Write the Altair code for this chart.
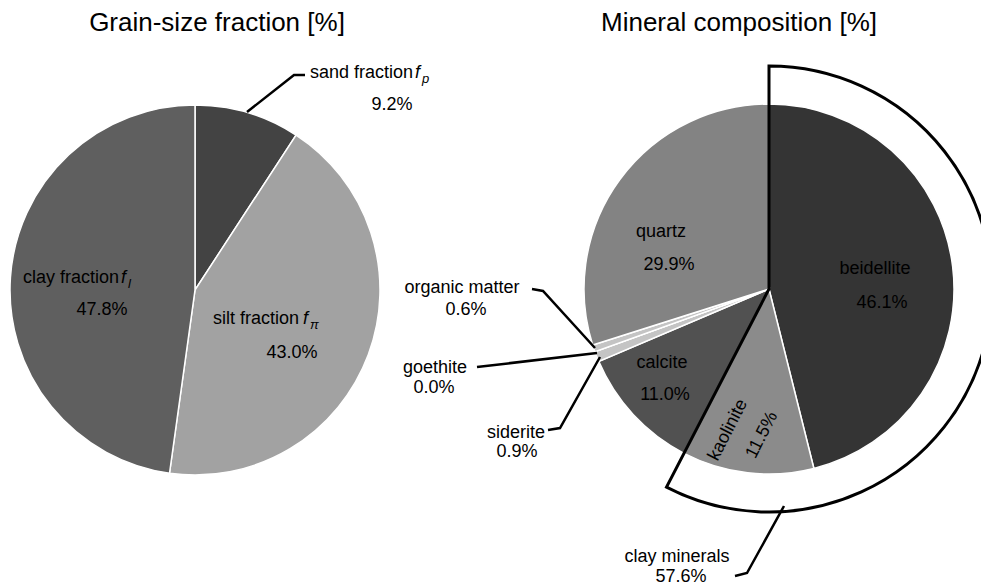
import altair as alt
import pandas as pd

# ---------------- data ----------------
grain_names = ["sand fraction", "silt fraction", "clay fraction"]
grain_values = [9.2, 43.0, 47.8]
grain_colors = ["#434343", "#a2a2a2", "#5f5f5f"]

mineral_names = ["beidellite", "kaolinite", "calcite", "siderite", "goethite", "organic matter", "quartz"]
mineral_values = [46.1, 11.5, 11.0, 0.9, 0.0, 0.6, 29.9]
mineral_colors = ["#343434", "#8b8b8b", "#515151", "#c4c4c4", "#d8d8d8", "#c4c4c4", "#838383"]

group_name = ["clay minerals"]
group_members = [["beidellite", "kaolinite"]]

titles = ["Grain-size fraction [%]", "Mineral composition [%]"]

# ---------------- layout (page pixel coordinates) ----------------
W, H = 973, 577
OFF = 8
R_PIE = 185
R_GROUP = 223
left_center = (195, 290)
right_center = (769, 289)

title_pos = [(217, 23), (739, 23)]

# label positions for each named item: (name-text x, name y, value x, value y)
grain_label_pos = {
    "sand fraction": (310, 73, 392, 105),
    "silt fraction": (213, 319, 292, 353),
    "clay fraction": (23, 278, 102, 310),
}
grain_sub = {"sand fraction": "p", "silt fraction": "π", "clay fraction": "l"}
f_gap = {"sand fraction": 105, "silt fraction": 90, "clay fraction": 98}

mineral_label_pos = {
    "beidellite": (875, 269, 882, 303),
    "calcite": (662, 363, 665, 395),
    "siderite": (516, 433, 517, 452),
    "goethite": (435, 368, 434, 388),
    "organic matter": (462, 288, 466, 310),
    "quartz": (661, 232, 669, 265),
}
kaolinite_pos = (728, 430, 762, 435)
group_label_pos = (677, 557, 681, 577)

leaders = {
    "sand": [(247, 112), (294, 75), (305, 75)],
    "organic": [(532, 289), (543, 291), (595, 348)],
    "goethite": [(477, 367), (597, 353)],
    "siderite": [(548, 430), (560, 428), (600, 357)],
    "clay": [(735, 576), (747, 573), (784, 506)],
}

FONT = "Liberation Sans"
FS = 18

# ---------------- tables ----------------
grain_df = pd.DataFrame({"name": grain_names, "value": grain_values,
                         "idx": list(range(len(grain_names)))})
mineral_df = pd.DataFrame({"name": mineral_names, "value": mineral_values,
                           "idx": list(range(len(mineral_names)))})

cum = 0.0
g_start, g_end = None, None
for n, v in zip(mineral_names, mineral_values):
    if n in group_members[0]:
        if g_start is None:
            g_start = cum
        g_end = cum + v
    cum += v
group_df = pd.DataFrame({"name": group_name, "start": [g_start], "end": [g_end]})
group_total = sum(v for n, v in zip(mineral_names, mineral_values) if n in group_members[0])

xs = alt.Scale(domain=[OFF, OFF + W], range=[0, W])
ys = alt.Scale(domain=[OFF, OFF + H], range=[0, H])
theta_scale = alt.Scale(domain=[0, 100])

# centered labels
rows = []
for n, v in zip(mineral_names, mineral_values):
    if n in mineral_label_pos:
        nx, ny, vx, vy = mineral_label_pos[n]
        rows.append({"t": n, "x": nx, "y": ny})
        rows.append({"t": f"{v:.1f}%", "x": vx, "y": vy})
for n, v in zip(grain_names, grain_values):
    nx, ny, vx, vy = grain_label_pos[n]
    rows.append({"t": f"{v:.1f}%", "x": vx, "y": vy})
rows.append({"t": group_name[0], "x": group_label_pos[0], "y": group_label_pos[1]})
rows.append({"t": f"{group_total:.1f}%", "x": group_label_pos[2], "y": group_label_pos[3]})
center_df = pd.DataFrame(rows)

# left-aligned grain names with italic f and subscript
name_rows, f_rows, sub_rows = [], [], []
for n in grain_names:
    nx, ny, _, _ = grain_label_pos[n]
    name_rows.append({"t": n, "x": nx, "y": ny})
    fx = nx + f_gap[n]
    f_rows.append({"t": "f", "x": fx, "y": ny})
    sub_rows.append({"t": grain_sub[n], "x": fx + 7, "y": ny + 6})
name_df = pd.DataFrame(name_rows)
f_df = pd.DataFrame(f_rows)
sub_df = pd.DataFrame(sub_rows)

kv = mineral_values[mineral_names.index("kaolinite")]
rot_df = pd.DataFrame({"t": ["kaolinite", f"{kv:.1f}%"],
                       "x": [kaolinite_pos[0], kaolinite_pos[2]],
                       "y": [kaolinite_pos[1], kaolinite_pos[3]]})

title_df = pd.DataFrame({"t": titles, "x": [p[0] for p in title_pos], "y": [p[1] for p in title_pos]})

lrows = []
for g, pts in leaders.items():
    for i, (x, y) in enumerate(pts):
        lrows.append({"g": g, "seq": i, "x": x, "y": y})
lead_df = pd.DataFrame(lrows)

# ---------------- charts ----------------
left_pie = alt.Chart(grain_df).mark_arc(outerRadius=R_PIE, stroke="white", strokeWidth=1.5).encode(
    theta=alt.Theta("value:Q", stack=True, scale=theta_scale),
    order=alt.Order("idx:Q", sort="ascending"),
    color=alt.Color("name:N", scale=alt.Scale(domain=grain_names, range=grain_colors), legend=None),
    x=alt.value(left_center[0] - OFF),
    y=alt.value(left_center[1] - OFF),
)

right_pie = alt.Chart(mineral_df).mark_arc(outerRadius=R_PIE, stroke="white", strokeWidth=1.5).encode(
    theta=alt.Theta("value:Q", stack=True, scale=theta_scale),
    order=alt.Order("idx:Q", sort="ascending"),
    color=alt.Color("name:N", scale=alt.Scale(domain=mineral_names, range=mineral_colors), legend=None),
    x=alt.value(right_center[0] - OFF),
    y=alt.value(right_center[1] - OFF),
)

group_arc = alt.Chart(group_df).mark_arc(outerRadius=R_GROUP, innerRadius=0, fillOpacity=0,
                                         stroke="black", strokeWidth=3, strokeJoin="miter").encode(
    theta=alt.Theta("start:Q", scale=theta_scale),
    theta2="end:Q",
    x=alt.value(right_center[0] - OFF),
    y=alt.value(right_center[1] - OFF),
)

lines = alt.Chart(lead_df).mark_line(color="black", strokeWidth=2.5, strokeJoin="miter").encode(
    x=alt.X("x:Q", scale=xs, axis=None),
    y=alt.Y("y:Q", scale=ys, axis=None),
    detail="g:N",
    order="seq:Q",
)

def txt(df, **kw):
    return alt.Chart(df).mark_text(font=FONT, color="black", baseline="middle", **kw).encode(
        x=alt.X("x:Q", scale=xs, axis=None),
        y=alt.Y("y:Q", scale=ys, axis=None),
        text="t:N",
    )

center_txt = txt(center_df, fontSize=FS, align="center")
name_txt = txt(name_df, fontSize=FS, align="left")
f_txt = txt(f_df, fontSize=FS, align="left", fontStyle="italic")
sub_txt = txt(sub_df, fontSize=13, align="left", fontStyle="italic")
rot_txt = txt(rot_df, fontSize=FS, align="center", angle=297)
title_txt = txt(title_df, fontSize=26, align="center")

chart = alt.layer(
    left_pie, right_pie, group_arc, lines,
    center_txt, name_txt, f_txt, sub_txt, rot_txt, title_txt,
).resolve_scale(color="independent").properties(
    width=W, height=H,
    autosize=alt.AutoSizeParams(type="none"),
    padding=0,
    background="white",
).configure_view(stroke=None)

chart.save("out.html", embed_options={"renderer": "svg", "actions": False})
